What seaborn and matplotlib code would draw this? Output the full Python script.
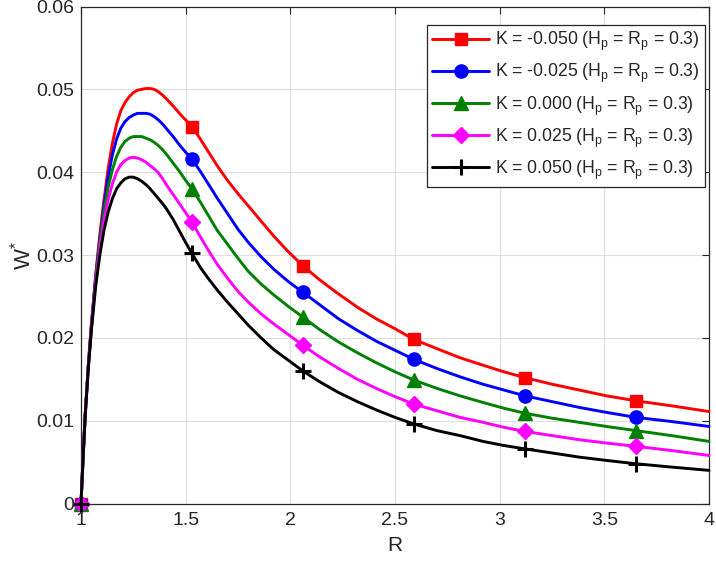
import numpy as np
import pandas as pd
import matplotlib
matplotlib.use("Agg")
import matplotlib.pyplot as plt
import seaborn as sns

# ---- data ----
R = [1.00, 1.01, 1.02, 1.035, 1.05, 1.07, 1.09, 1.11, 1.13, 1.15,
     1.17, 1.19, 1.21, 1.23, 1.25, 1.27, 1.29, 1.31, 1.33, 1.35,
     1.37, 1.39, 1.41, 1.44, 1.47, 1.50, 1.53, 1.57, 1.61, 1.65,
     1.70, 1.75, 1.80, 1.86, 1.92, 1.99, 2.06, 2.14, 2.23, 2.32,
     2.41, 2.50, 2.59, 2.70, 2.81, 2.92, 3.02, 3.12, 3.25, 3.38,
     3.51, 3.65, 3.82, 4.00]
marker_idx = [0, 26, 36, 42, 47, 51]

w_m050 = [0, 0.0056, 0.0108, 0.0168, 0.0218, 0.0276, 0.0325, 0.0367, 0.0405, 0.0435,
          0.0458, 0.0474, 0.0484, 0.0491, 0.0496, 0.0499, 0.0500, 0.0501, 0.0501, 0.0500,
          0.0497, 0.0493, 0.0488, 0.0480, 0.0471, 0.0463, 0.0455, 0.0440, 0.0424, 0.0408,
          0.0390, 0.0374, 0.0359, 0.0341, 0.0323, 0.0304, 0.0287, 0.0270, 0.0253, 0.0237,
          0.0223, 0.0211, 0.0198, 0.0187, 0.0176, 0.0167, 0.0159, 0.0152, 0.0144, 0.0137,
          0.0130, 0.0124, 0.0118, 0.0111]
w_m025 = [0, 0.0056, 0.0107, 0.0167, 0.0216, 0.0273, 0.0320, 0.0360, 0.0395, 0.0421,
          0.0440, 0.0453, 0.0461, 0.0466, 0.0469, 0.0471, 0.0471, 0.0471, 0.0470, 0.0467,
          0.0463, 0.0458, 0.0452, 0.0443, 0.0433, 0.0424, 0.0416, 0.0401, 0.0385, 0.0369,
          0.0350, 0.0331, 0.0315, 0.0298, 0.0283, 0.0268, 0.0255, 0.0240, 0.0223, 0.0209,
          0.0196, 0.0185, 0.0174, 0.0163, 0.0153, 0.0144, 0.0137, 0.0130, 0.0123, 0.0116,
          0.0110, 0.0104, 0.0099, 0.0093]
w_000 = [0, 0.0056, 0.0107, 0.0166, 0.0215, 0.0271, 0.0316, 0.0353, 0.0382, 0.0403,
         0.0419, 0.0430, 0.0437, 0.0441, 0.0443, 0.0443, 0.0443, 0.0441, 0.0439, 0.0436,
         0.0432, 0.0427, 0.0421, 0.0411, 0.0401, 0.0390, 0.0380, 0.0364, 0.0347, 0.0330,
         0.0313, 0.0296, 0.0280, 0.0265, 0.0252, 0.0238, 0.0225, 0.0210, 0.0195, 0.0182,
         0.0170, 0.0159, 0.0149, 0.0139, 0.0130, 0.0122, 0.0115, 0.0109, 0.0103, 0.0098,
         0.0093, 0.0088, 0.0082, 0.0075]
w_p025 = [0, 0.0056, 0.0106, 0.0165, 0.0213, 0.0267, 0.0309, 0.0342, 0.0367, 0.0386,
          0.0400, 0.0409, 0.0414, 0.0417, 0.0418, 0.0417, 0.0415, 0.0412, 0.0408, 0.0404,
          0.0399, 0.0392, 0.0384, 0.0373, 0.0362, 0.0351, 0.0340, 0.0322, 0.0305, 0.0289,
          0.0272, 0.0256, 0.0243, 0.0229, 0.0217, 0.0204, 0.0191, 0.0177, 0.0163, 0.0150,
          0.0139, 0.0129, 0.0120, 0.0112, 0.0104, 0.0098, 0.0092, 0.0087, 0.0082, 0.0077,
          0.0073, 0.0069, 0.0064, 0.0058]
w_p050 = [0, 0.0055, 0.0105, 0.0163, 0.0210, 0.0262, 0.0300, 0.0330, 0.0352, 0.0368,
          0.0380, 0.0387, 0.0392, 0.0394, 0.0394, 0.0392, 0.0389, 0.0385, 0.0380, 0.0374,
          0.0368, 0.0362, 0.0355, 0.0343, 0.0329, 0.0315, 0.0302, 0.0285, 0.0271, 0.0258,
          0.0243, 0.0229, 0.0215, 0.0200, 0.0186, 0.0173, 0.0160, 0.0147, 0.0134, 0.0123,
          0.0113, 0.0104, 0.0096, 0.0088, 0.0082, 0.0075, 0.0070, 0.0066, 0.0061, 0.0056,
          0.0052, 0.0048, 0.0044, 0.0040]

labels = ["K = -0.050", "K = -0.025", "K = 0.000", "K = 0.025", "K = 0.050"]
series = [w_m050, w_m025, w_000, w_p025, w_p050]
colors = ["#ff0000", "#0000ff", "#008000", "#ff00ff", "#000000"]
markers = ["s", "o", "^", "D", "+"]
msizes = [8.5, 9.5, 9.5, 8.5, 11]

xticks = [1, 1.5, 2, 2.5, 3, 3.5, 4]
xticklabels = ["1", "1.5", "2", "2.5", "3", "3.5", "4"]
yticks = [0, 0.01, 0.02, 0.03, 0.04, 0.05, 0.06]
yticklabels = ["0", "0.01", "0.02", "0.03", "0.04", "0.05", "0.06"]

# ---- style ----
sns.set_style("white")
plt.rcParams["font.family"] = ["Liberation Sans", "DejaVu Sans"]
plt.rcParams["mathtext.default"] = "regular"

fig = plt.figure(figsize=(7.16, 5.61), dpi=100)
W, H = 716, 561
ax = fig.add_axes([81 / W, 1 - 503.5 / H, (709 - 81) / W, (503.5 - 6.5) / H])

for lab, w, c, m, ms in zip(labels, series, colors, markers, msizes):
    df = pd.DataFrame({"R": R, "W": w})
    sns.lineplot(data=df, x="R", y="W", ax=ax, color=c, linewidth=2.1,
                 marker=m, markersize=ms, markevery=marker_idx,
                 markeredgewidth=2.2 if m == "+" else 1, markeredgecolor=c,
                 label=lab + " (H$_{p}$ = R$_{p}$ = 0.3)", sort=False, clip_on=False,
                 zorder=3)

ax.set_xlim(1, 4)
ax.set_ylim(0, 0.06)
ax.set_xticks(xticks)
ax.set_xticklabels(xticklabels)
ax.set_yticks(yticks)
ax.set_yticklabels(yticklabels)
ax.grid(True, color="#dedede", linewidth=0.8)
ax.set_axisbelow(True)
for s in ax.spines.values():
    s.set_color("#262626")
    s.set_linewidth(0.9)
    s.set_visible(True)
    s.set_zorder(2)
ax.tick_params(direction="in", length=5, width=0.8, colors="#262626",
               labelsize=14, top=True, right=True)
ax.tick_params(axis="x", pad=6)
ax.tick_params(axis="y", pad=5)
ax.set_xlabel("R", fontsize=15, color="#262626", labelpad=5)
ax.set_ylabel("W$^{*}$", fontsize=16, color="#262626", labelpad=0.5)

leg = ax.legend(loc="upper right", bbox_to_anchor=(0.9936, 0.9628), borderaxespad=0,
                fontsize=12.7, frameon=True, fancybox=False, framealpha=1,
                edgecolor="#262626", handlelength=3.2, labelspacing=0.5,
                borderpad=0.3, handletextpad=0.35)
leg.get_frame().set_linewidth(0.9)
leg.set_zorder(5)

fig.savefig("out.png", dpi=100)
